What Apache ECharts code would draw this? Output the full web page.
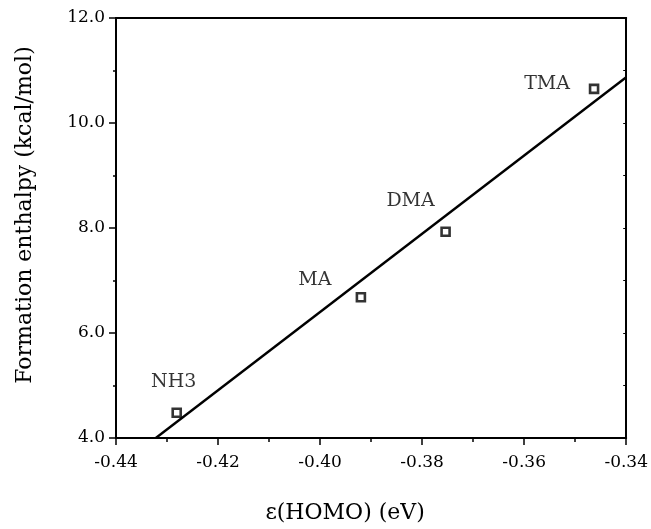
<!DOCTYPE html>
<html>
<head>
<meta charset="utf-8">
<script src="https://cdn.jsdelivr.net/npm/echarts@6/dist/echarts.min.js"></script>
<style>html,body{margin:0;padding:0;background:#fff}#c{width:651px;height:529px}</style>
</head>
<body>
<div id="c"></div>
<script>
// Data
const compounds = ['NH3', 'MA', 'DMA', 'TMA'];
const homoEnergy = [-0.4281, -0.3920, -0.3754, -0.3463];
const formationEnthalpy = [4.48, 6.68, 7.93, 10.65];
const fitLineX = [-0.4322, -0.34];
const fitLineY = [4.0, 10.87];

// label offsets (style, not data)
const labelOffsets = [[-3, -31], [-46, -17], [-35, -31], [-47, -5]];

const FONT = 'DejaVu Serif';
const chart = echarts.init(document.getElementById('c'));

const points = compounds.map((name, i) => ({
  name: name,
  value: [homoEnergy[i], formationEnthalpy[i]],
  label: {
    show: true, formatter: name, position: 'inside',
    offset: labelOffsets[i], color: '#000', fontFamily: FONT, fontSize: 19
  }
}));

const axisCommon = {
  axisLine: { show: true, lineStyle: { color: '#000', width: 2 } },
  splitLine: { show: false }
};

chart.setOption({
  animation: false,
  backgroundColor: '#fff',
  grid: { left: 116, top: 18, right: 23, bottom: 87 },
  xAxis: [{
    type: 'value', min: -0.44, max: -0.34, interval: 0.02,
    position: 'bottom',
    ...axisCommon,
    axisTick: { show: true, length: 7, lineStyle: { color: '#000', width: 1.5 } },
    minorTick: { show: true, splitNumber: 2, length: 4, lineStyle: { color: '#000', width: 1.5 } },
    axisLabel: { color: '#000', fontFamily: FONT, fontSize: 17, margin: 16,
      formatter: v => v.toFixed(2) },
    name: 'ε(HOMO) (eV)', nameLocation: 'middle', nameGap: 64,
    nameTextStyle: { color: '#000', fontFamily: FONT, fontSize: 22, padding: [0, 52, 0, 0] }
  }, {
    type: 'value', min: -0.44, max: -0.34, interval: 0.02, position: 'top',
    ...axisCommon,
    axisTick: { show: false }, axisLabel: { show: false }
  }],
  yAxis: [{
    type: 'value', min: 4, max: 12, interval: 2,
    position: 'left',
    ...axisCommon,
    axisTick: { show: true, length: 7, lineStyle: { color: '#000', width: 1.5 } },
    minorTick: { show: true, splitNumber: 2, length: 3, lineStyle: { color: '#000', width: 1.5 } },
    axisLabel: { color: '#000', fontFamily: FONT, fontSize: 17, margin: 11,
      formatter: v => v.toFixed(1) },
    name: 'Formation enthalpy (kcal/mol)', nameLocation: 'middle', nameGap: 80,
    nameTextStyle: { color: '#000', fontFamily: FONT, fontSize: 22, padding: [0, 0, 0, 26] }
  }, {
    type: 'value', min: 4, max: 12, interval: 2, position: 'right',
    ...axisCommon,
    axisTick: { show: true, inside: true, length: 3, lineStyle: { color: '#000', width: 1 } },
    minorTick: { show: true, splitNumber: 2, length: 3, lineStyle: { color: '#000', width: 1 } },
    axisLabel: { show: false }
  }],
  series: [{
    type: 'line',
    data: fitLineX.map((x, i) => [x, fitLineY[i]]),
    showSymbol: false, symbol: 'none',
    lineStyle: { color: '#000', width: 2.4 },
    z: 2
  }, {
    type: 'scatter',
    data: points,
    symbol: 'rect', symbolSize: 8,
    itemStyle: { color: '#fff', borderColor: '#000', borderWidth: 2.6 },
    z: 3
  }]
});
</script>
</body>
</html>
